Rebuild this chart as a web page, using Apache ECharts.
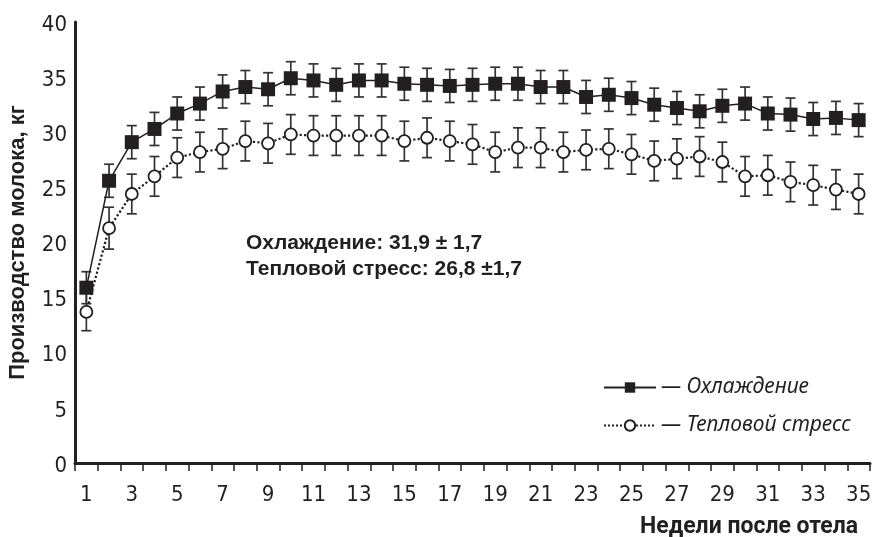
<!DOCTYPE html>
<html><head><meta charset="utf-8">
<script src="https://cdn.jsdelivr.net/npm/echarts@6/dist/echarts.min.js"></script>
<style>html,body{margin:0;padding:0;background:#fff}#c{width:873px;height:537px}</style>
</head><body><div id="c"></div>
<script>
const weeks = ['1','2','3','4','5','6','7','8','9','10','11','12','13','14','15','16','17','18','19','20','21','22','23','24','25','26','27','28','29','30','31','32','33','34','35'];
const cooling = [15.9,25.6,29.1,30.3,31.7,32.6,33.7,34.1,33.9,34.9,34.7,
  34.3,34.7,34.7,34.4,34.3,34.2,34.3,34.4,34.4,34.1,34.1,33.2,33.4,
  33.1,32.5,32.2,31.9,32.4,32.6,31.7,31.6,31.2,31.3,31.1];
const coolingErr = [1.45,1.5,1.5,1.5,1.5,1.5,1.5,1.5,1.5,1.5,1.5,
  1.5,1.5,1.5,1.5,1.5,1.5,1.5,1.5,1.5,1.5,1.5,1.5,1.5,
  1.5,1.5,1.5,1.5,1.5,1.5,1.5,1.5,1.5,1.5,1.5];
const heat = [13.7,21.3,24.4,26.0,27.7,28.2,28.5,29.2,29.0,29.8,29.7,
  29.7,29.7,29.7,29.2,29.5,29.2,28.9,28.2,28.6,28.6,28.2,28.4,28.5,
  28.0,27.4,27.6,27.8,27.3,26.0,26.1,25.5,25.2,24.8,24.4];
const heatErr = [1.7,1.9,1.8,1.8,1.8,1.8,1.8,1.8,1.8,1.8,1.8,
  1.8,1.8,1.8,1.8,1.8,1.8,1.8,1.8,1.8,1.8,1.8,1.8,1.8,
  1.8,1.8,1.8,1.8,1.8,1.8,1.8,1.8,1.8,1.8,1.8];
const yTicks = {min:0, max:40, interval:5};
const seriesNames = ['Охлаждение','Тепловой стресс'];
const noteLines = ['Охлаждение: 31,9 ± 1,7','Тепловой стресс: 26,8 ±1,7'];
const yName = 'Производство молока, кг';
const xName = 'Недели после отела';

const INK = '#231f20';
const NUMFONT = '"Liberation Sans Narrow","DejaVu Sans Condensed",sans-serif';
function errData(vals, errs){ return vals.map((v,i)=>[i, v-errs[i], v+errs[i]]); }
function errRender(params, api){
  const x = api.value(0), lo = api.value(1), hi = api.value(2);
  const a = api.coord([x, hi]), b = api.coord([x, lo]);
  const w = 5, st = {stroke:'#333', lineWidth:1.7};
  return {type:'group', children:[
    {type:'line', shape:{x1:a[0],y1:a[1],x2:b[0],y2:b[1]}, style:st},
    {type:'line', shape:{x1:a[0]-w,y1:a[1],x2:a[0]+w,y2:a[1]}, style:st},
    {type:'line', shape:{x1:b[0]-w,y1:b[1],x2:b[0]+w,y2:b[1]}, style:st}
  ]};
}
const chart = echarts.init(document.getElementById('c'));
chart.setOption({
  animation:false,
  grid:{left:75, right:3, top:22, bottom:74, containLabel:false, outerBoundsMode:'none'},
  xAxis:{type:'category', data:weeks, boundaryGap:true,
    axisLine:{lineStyle:{color:INK, width:3}},
    axisTick:{show:true, interval:0, length:8, lineStyle:{color:INK, width:1.5}},
    axisLabel:{interval:1, color:INK, fontSize:22, fontFamily:NUMFONT, margin:21},
    name:xName, nameLocation:'end', nameGap:-12,
    nameTextStyle:{align:'right', verticalAlign:'top', padding:[53,0,0,0], fontSize:23, fontWeight:'bold', color:INK, fontFamily:'Roboto, sans-serif'}
  },
  yAxis:{type:'value', min:yTicks.min, max:yTicks.max, interval:yTicks.interval,
    axisLine:{show:true, lineStyle:{color:INK, width:3}},
    axisTick:{show:false}, splitLine:{show:false},
    axisLabel:{color:INK, fontSize:22, fontFamily:NUMFONT, margin:8, verticalAlign:'top', lineHeight:6},
    name:yName, nameLocation:'middle', nameGap:46,
    nameTextStyle:{fontSize:22, fontWeight:'bold', color:INK, fontFamily:'"Liberation Sans", Arial, sans-serif'}
  },
  legend:{data:seriesNames, orient:'vertical', left:598, top:372, itemWidth:52, itemHeight:13, itemGap:17,
    formatter:n=>'— '+n,
    textStyle:{fontSize:21, fontStyle:'italic', color:INK, fontFamily:'"Noto Sans", sans-serif'}},
  graphic:[
    {type:'text', left:246, top:233, style:{text:noteLines[0], font:'bold 21px "Liberation Sans", sans-serif', fill:INK}},
    {type:'text', left:246, top:259, style:{text:noteLines[1], font:'bold 21px "Liberation Sans", sans-serif', fill:INK}}
  ],
  series:[
    {type:'custom', name:'errC', renderItem:errRender, data:errData(cooling, coolingErr), encode:{x:0, y:[1,2]}, z:1, silent:true},
    {type:'custom', name:'errH', renderItem:errRender, data:errData(heat, heatErr), encode:{x:0, y:[1,2]}, z:1, silent:true},
    {type:'line', name:seriesNames[0], data:cooling, symbol:'rect', symbolSize:14, z:3,
      lineStyle:{color:INK, width:1.5}, itemStyle:{color:INK}},
    {type:'line', name:seriesNames[1], data:heat, symbol:'circle', symbolSize:12, z:3,
      lineStyle:{color:INK, width:2.2, type:'dotted'}, itemStyle:{color:'#fff', borderColor:INK, borderWidth:1.8}}
  ]
});
</script></body></html>
